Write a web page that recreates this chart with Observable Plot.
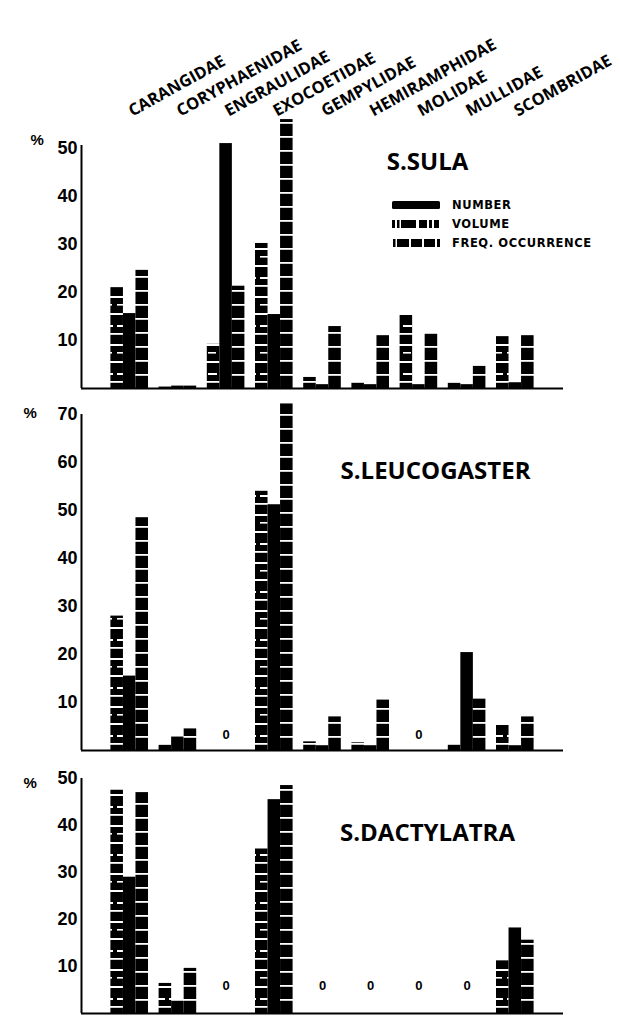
<!DOCTYPE html>
<html><head><meta charset="utf-8">
<script src="https://cdn.jsdelivr.net/npm/d3@7"></script>
<script src="https://cdn.jsdelivr.net/npm/@observablehq/plot@0.6"></script>
<style>
body{margin:0;background:#fff;}
#wrap{position:relative;width:620px;height:1017px;background:#fff;}
#wrap > svg{display:block;}
#legend{position:absolute;left:388px;top:195px;}
</style></head><body><div id="wrap"></div>
<script>
// ---- data ----
const families = ["CARANGIDAE","CORYPHAENIDAE","ENGRAULIDAE","EXOCOETIDAE","GEMPYLIDAE","HEMIRAMPHIDAE","MOLIDAE","MULLIDAE","SCOMBRIDAE"];

const sulaNumber = [15.6, 0.5, 51, 15.4, 0.8, 0.8, 0.8, 0.8, 1.2];
const sulaVolume = [21, 0.3, 9.2, 30.2, 2.3, 1.4, 15.2, 1.2, 10.8];
const sulaFreq   = [24.6, 0.5, 21.3, 56, 12.9, 11, 11.6, 4.6, 11];

const leucoNumber = [15.5, 2.8, null, 51.2, 1, 1, null, 20.4, 1];
const leucoVolume = [28, 1.2, null, 54, 1.8, 1.6, null, 1.3, 5.3];
const leucoFreq   = [48.5, 4.5, null, 72.2, 7, 10.5, null, 10.7, 7];

const dactNumber = [29, 2.6, null, 45.5, null, null, null, null, 18.2];
const dactVolume = [47.5, 6.4, null, 35, null, null, null, null, 11.2];
const dactFreq   = [47, 9.6, null, 48.5, null, null, null, null, 15.6];

const ticksSula = [10, 20, 30, 40, 50];
const ticksLeuco = [10, 20, 30, 40, 50, 60, 70];
const ticksDact = [10, 20, 30, 40, 50];

const legendLabels = ["NUMBER", "VOLUME", "FREQ. OCCURRENCE"];

// ---- drawing ----
const wrap = document.getElementById("wrap");
const barW = 0.26;

function rows(vals) {
  return vals.map((v, i) => ({i: i + 1, v})).filter(d => d.v != null);
}

function panel(o) {
  const volume = rows(o.volume), number = rows(o.number), freq = rows(o.freq);
  const zeros = families.map((f, i) => i + 1).filter(i => o.number[i-1] == null && o.volume[i-1] == null && o.freq[i-1] == null);
  const marks = [
    Plot.rectY(volume, {x1: d => d.i - 1.5 * barW, x2: d => d.i - 0.5 * barW, y: "v", fill: `url(#vol-${o.id})`}),
    Plot.rectY(number, {x1: d => d.i - 0.5 * barW, x2: d => d.i + 0.5 * barW, y: "v", fill: "black"}),
    Plot.rectY(freq, {x1: d => d.i + 0.5 * barW, x2: d => d.i + 1.5 * barW, y: "v", fill: `url(#freq-${o.id})`}),
    Plot.ruleX([0], {y1: 0, y2: o.yTop, stroke: "black", strokeWidth: 2}),
    Plot.ruleY([0], {x1: 0, x2: 10, stroke: "black", strokeWidth: 2.2}),
    Plot.text(zeros, {x: d => d, frameAnchor: "bottom", dy: o.zeroDy, text: () => "0", fontSize: 13, fontWeight: "bold", fontFamily: "Liberation Sans"}),
    Plot.text(["%"], {frameAnchor: "top-left", dx: o.pctDx, dy: o.pctDy, fontSize: 15, fontWeight: "bold", fontFamily: "Liberation Sans"}),
    Plot.text([o.title], {frameAnchor: "top-left", dx: o.titleDx, dy: o.titleDy, textAnchor: "middle", fontSize: 24, fontWeight: "bold", fontFamily: "Open Sans"})
  ];
  if (o.labels) {
    marks.push(Plot.text(families, {x: (d, i) => i + 1, frameAnchor: "top", dy: -39, dx: -3, rotate: -29, textAnchor: "start", fontSize: 16.5, fontWeight: "bold", fontFamily: "Open Sans"}));
  }
  const svg = Plot.plot({
    width: 620,
    height: o.height,
    marginTop: o.marginTop,
    marginBottom: o.marginBottom,
    marginLeft: 81,
    marginRight: 57,
    x: {domain: [0, 10], axis: null},
    y: {domain: [0, o.yTop], ticks: o.ticks, tickSize: 0, tickPadding: 4, label: null},
    style: {fontFamily: "Liberation Sans", fontSize: "18px", fontWeight: "bold", color: "black", background: "white", overflow: "visible"},
    marks
  });
  const base = o.height - o.marginBottom;
  const defs = d3.select(svg).insert("defs", ":first-child");
  const pf = defs.append("pattern").attr("id", `freq-${o.id}`).attr("patternUnits", "userSpaceOnUse")
    .attr("width", 20).attr("height", 14).attr("patternTransform", `translate(0,${base})`);
  pf.append("rect").attr("width", 20).attr("height", 14).attr("fill", "black");
  pf.append("rect").attr("y", 0).attr("width", 20).attr("height", 1.8).attr("fill", "white");
  const pv = defs.append("pattern").attr("id", `vol-${o.id}`).attr("patternUnits", "userSpaceOnUse")
    .attr("width", 13).attr("height", 48).attr("patternTransform", `translate(0,${base})`);
  pv.append("rect").attr("width", 13).attr("height", 48).attr("fill", "black");
  [[4, 2, 0, 13], [12, 1.6, 0, 8], [21, 2, 0, 13], [33, 2, 0, 9], [41, 1.8, 0, 13]].forEach(([y, h, x, w]) =>
    pv.append("rect").attr("x", x).attr("y", y).attr("width", w).attr("height", h).attr("fill", "white"));
  wrap.appendChild(svg);
}

panel({id: "sula", number: sulaNumber, volume: sulaVolume, freq: sulaFreq, ticks: ticksSula, yTop: 50.6,
  height: 398, marginTop: 145, marginBottom: 10, title: "S.SULA", titleDx: 346, titleDy: 7,
  pctDx: -51, pctDy: -11, zeroDy: -10, labels: true});
panel({id: "leuco", number: leucoNumber, volume: leucoVolume, freq: leucoFreq, ticks: ticksLeuco, yTop: 70,
  height: 359, marginTop: 16, marginBottom: 7, title: "S.LEUCOGASTER", titleDx: 354, titleDy: 47,
  pctDx: -58, pctDy: -7, zeroDy: -12, labels: false});
panel({id: "dact", number: dactNumber, volume: dactVolume, freq: dactFreq, ticks: ticksDact, yTop: 50,
  height: 260, marginTop: 21, marginBottom: 4, title: "S.DACTYLATRA", titleDx: 346, titleDy: 45,
  pctDx: -58, pctDy: -1, zeroDy: -24, labels: false});

// ---- legend ----
const lg = d3.select(wrap).append("svg").attr("id", "legend").attr("width", 225).attr("height", 60);
const rowY = [10, 29, 48];
lg.append("rect").attr("x", 4).attr("y", rowY[0] - 4).attr("width", 48).attr("height", 8).attr("rx", 1.5).attr("fill", "black");
[[4, 3], [9, 2.5], [13, 15], [31, 8], [41, 3], [46, 5]].forEach(([x, w]) =>
  lg.append("rect").attr("x", x).attr("y", rowY[1] - 4).attr("width", w).attr("height", 8).attr("fill", "black"));
[[5, 2.5], [9, 12], [23, 11], [36, 11], [49, 3]].forEach(([x, w]) =>
  lg.append("rect").attr("x", x).attr("y", rowY[2] - 4).attr("width", w).attr("height", 8).attr("fill", "black"));
lg.selectAll("text.l").data(legendLabels).join("text").attr("class", "l")
  .attr("x", 64).attr("y", (d, i) => rowY[i]).attr("dy", "0.36em")
  .attr("font-family", "DejaVu Sans").attr("font-weight", "bold").attr("font-size", 11.5).attr("letter-spacing", 0.6)
  .text(d => d);
</script>
</body></html>
